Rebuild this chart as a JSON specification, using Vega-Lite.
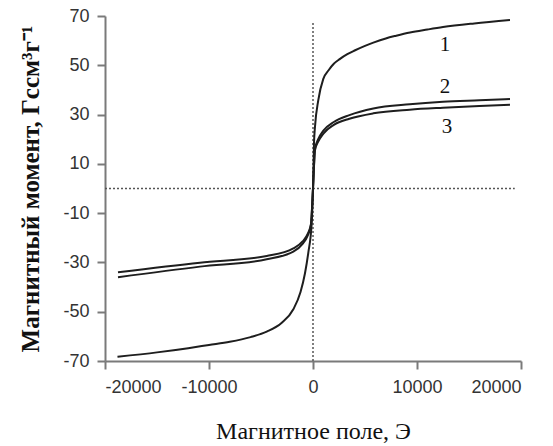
{
  "$schema": "https://vega.github.io/schema/vega-lite/v6.json",
  "width": 416,
  "height": 345,
  "autosize": {"type": "none"},
  "padding": {"left": 105, "top": 16, "right": 32, "bottom": 85},
  "background": "white",
  "config": {
    "view": {"stroke": null},
    "axis": {
      "grid": false,
      "domainColor": "#7a7a7a",
      "domainWidth": 2,
      "tickColor": "#7a7a7a",
      "tickWidth": 2,
      "tickSize": 8,
      "labelFont": "Liberation Sans",
      "labelFontSize": 18,
      "labelColor": "#333333",
      "titleColor": "#111111",
      "labelExpr": "replace(datum.label, '−', '-')"
    }
  },
  "datasets": {
    "curves": [
      {"curve": "1", "H": -18800, "M": -68.3},
      {"curve": "1", "H": -15000, "M": -66.5},
      {"curve": "1", "H": -12000, "M": -64.8},
      {"curve": "1", "H": -10000, "M": -63.5},
      {"curve": "1", "H": -8000, "M": -62.2},
      {"curve": "1", "H": -6000, "M": -60.3},
      {"curve": "1", "H": -4450, "M": -58.1},
      {"curve": "1", "H": -3000, "M": -54.5},
      {"curve": "1", "H": -1890, "M": -49.0},
      {"curve": "1", "H": -1200, "M": -42.0},
      {"curve": "1", "H": -770, "M": -34.4},
      {"curve": "1", "H": -450, "M": -26.0},
      {"curve": "1", "H": -125, "M": -14.0},
      {"curve": "1", "H": 0, "M": 0},
      {"curve": "1", "H": 96, "M": 18.5},
      {"curve": "1", "H": 190, "M": 25.0},
      {"curve": "1", "H": 510, "M": 35.9},
      {"curve": "1", "H": 990, "M": 44.5},
      {"curve": "1", "H": 1500, "M": 48.0},
      {"curve": "1", "H": 2000, "M": 50.6},
      {"curve": "1", "H": 2600, "M": 52.6},
      {"curve": "1", "H": 3300, "M": 54.5},
      {"curve": "1", "H": 4000, "M": 56.0},
      {"curve": "1", "H": 5000, "M": 57.9},
      {"curve": "1", "H": 5800, "M": 59.2},
      {"curve": "1", "H": 7000, "M": 60.9},
      {"curve": "1", "H": 8000, "M": 62.0},
      {"curve": "1", "H": 9330, "M": 63.3},
      {"curve": "1", "H": 11000, "M": 64.5},
      {"curve": "1", "H": 12500, "M": 65.5},
      {"curve": "1", "H": 15500, "M": 67.0},
      {"curve": "1", "H": 18940, "M": 68.4},

      {"curve": "2", "H": -18750, "M": -36.0},
      {"curve": "2", "H": -10870, "M": -31.7},
      {"curve": "2", "H": -4450, "M": -28.7},
      {"curve": "2", "H": -1890, "M": -25.6},
      {"curve": "2", "H": -1000, "M": -22.5},
      {"curve": "2", "H": -500, "M": -19.0},
      {"curve": "2", "H": -200, "M": -15.0},
      {"curve": "2", "H": 0, "M": 0},
      {"curve": "2", "H": 190, "M": 16.0},
      {"curve": "2", "H": 500, "M": 20.0},
      {"curve": "2", "H": 1000, "M": 23.5},
      {"curve": "2", "H": 2000, "M": 27.0},
      {"curve": "2", "H": 3500, "M": 29.8},
      {"curve": "2", "H": 5800, "M": 32.5},
      {"curve": "2", "H": 9300, "M": 34.2},
      {"curve": "2", "H": 12500, "M": 35.2},
      {"curve": "2", "H": 16000, "M": 35.8},
      {"curve": "2", "H": 18940, "M": 36.3},

      {"curve": "3", "H": -18750, "M": -34.0},
      {"curve": "3", "H": -10870, "M": -30.1},
      {"curve": "3", "H": -4450, "M": -27.4},
      {"curve": "3", "H": -1890, "M": -24.3},
      {"curve": "3", "H": -1000, "M": -21.5},
      {"curve": "3", "H": -500, "M": -18.3},
      {"curve": "3", "H": -200, "M": -14.5},
      {"curve": "3", "H": 0, "M": 0},
      {"curve": "3", "H": 190, "M": 15.5},
      {"curve": "3", "H": 500, "M": 19.0},
      {"curve": "3", "H": 1000, "M": 22.3},
      {"curve": "3", "H": 2000, "M": 25.8},
      {"curve": "3", "H": 3500, "M": 28.3},
      {"curve": "3", "H": 5800, "M": 30.5},
      {"curve": "3", "H": 9300, "M": 32.0},
      {"curve": "3", "H": 12500, "M": 32.8},
      {"curve": "3", "H": 16000, "M": 33.5},
      {"curve": "3", "H": 18940, "M": 34.0}
    ],
    "labels": [
      {"text": "1", "H": 12690, "M": 58.2},
      {"text": "2", "H": 12690, "M": 41.2},
      {"text": "3", "H": 12880, "M": 25.0}
    ],
    "zeroV": [
      {"H": 0, "M": -70, "M2": 68}
    ],
    "zeroH": [
      {"H": -20000, "H2": 19400, "M": 0}
    ]
  },
  "encoding": {
    "x": {
      "field": "H",
      "type": "quantitative",
      "scale": {"domain": [-20000, 20000], "nice": false},
      "axis": {
        "values": [-20000, -10000, 0, 10000, 20000],
        "format": "d",
        "labelPadding": 9,
        "title": "Магнитное поле, Э",
        "titleFont": "Liberation Serif",
        "titleFontSize": 24,
        "titleFontWeight": "normal",
        "titlePadding": 23
      }
    },
    "y": {
      "field": "M",
      "type": "quantitative",
      "scale": {"domain": [-70, 70], "nice": false},
      "axis": {
        "values": [-70, -50, -30, -10, 10, 30, 50, 70],
        "labelPadding": 8,
        "title": "Магнитный момент, Гссм³г⁻¹",
        "titleFont": "Liberation Serif",
        "titleFontSize": 25,
        "titleFontWeight": "bold",
        "titlePadding": 19
      }
    }
  },
  "layer": [
    {
      "data": {"name": "zeroH"},
      "mark": {"type": "rule", "color": "#555555", "strokeWidth": 1.5, "strokeDash": [2, 2]},
      "encoding": {"x2": {"field": "H2"}}
    },
    {
      "data": {"name": "zeroV"},
      "mark": {"type": "rule", "color": "#555555", "strokeWidth": 1.5, "strokeDash": [2, 2]},
      "encoding": {"y2": {"field": "M2"}}
    },
    {
      "data": {"name": "curves"},
      "mark": {"type": "line", "color": "#1e1e1e", "strokeWidth": 2, "interpolate": "monotone"},
      "encoding": {"detail": {"field": "curve"}}
    },
    {
      "data": {"name": "labels"},
      "mark": {"type": "text", "font": "Liberation Serif", "fontSize": 21, "color": "#111111", "align": "center", "baseline": "middle"},
      "encoding": {"text": {"field": "text"}}
    }
  ]
}
